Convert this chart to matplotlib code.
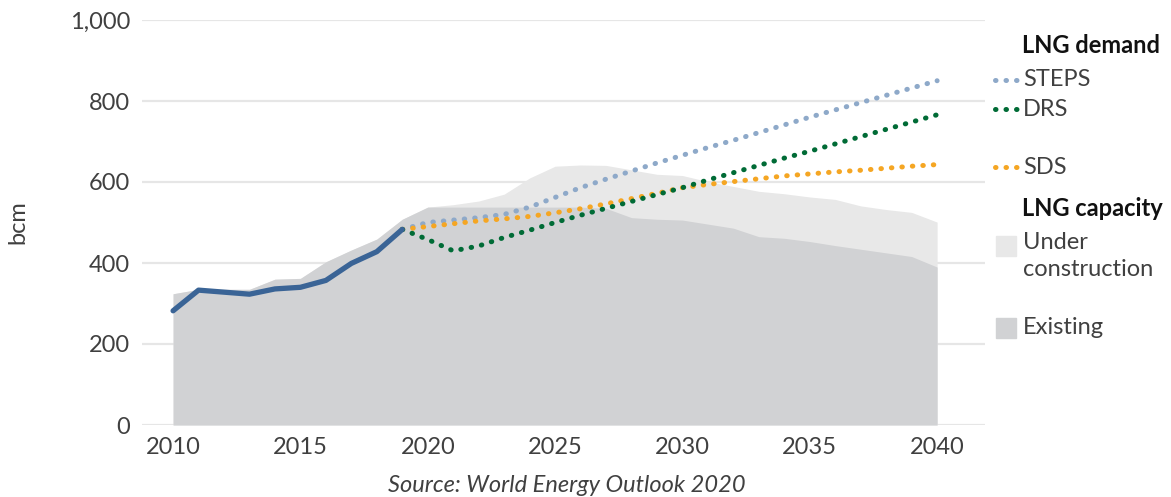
import matplotlib.pyplot as plt
from matplotlib.lines import Line2D
from matplotlib.patches import Rectangle
import numpy as np

plt.rcParams['font.family'] = ['Lato', 'DejaVu Sans']

# Historical LNG demand (bcm)
hist_years = list(range(2010, 2020))
hist_demand = [282, 333, 328, 323, 336, 340, 357, 399, 428, 483]

# Projected LNG demand by scenario (bcm)
proj_years = list(range(2019, 2041))
steps = [483, 500, 506, 512, 520, 538, 562, 586, 607, 627, 647, 666,
         685, 703, 722, 741, 760, 778, 796, 814, 832, 850]
drs = [483, 458, 430, 442, 463, 481, 500, 518, 535, 552, 569, 586,
       605, 623, 641, 659, 676, 694, 712, 730, 748, 766]
sds = [483, 490, 497, 504, 509, 515, 524, 534, 546, 559, 572, 586,
       594, 601, 608, 615, 620, 625, 629, 634, 639, 643]

# LNG liquefaction capacity (bcm)
cap_years = list(range(2010, 2041))
existing = [324, 335, 335, 335, 360, 362, 403, 432, 459, 508,
            538, 538, 538, 538, 538, 538, 538, 535, 512, 508,
            506, 496, 486, 465, 461, 453, 443, 434, 425, 416, 390]
under_construction = [0, 0, 0, 0, 0, 0, 0, 0, 0, 0,
                      0, 6, 15, 32, 72, 101, 104, 106, 118, 111,
                      110, 105, 103, 112, 110, 110, 114, 107, 107, 109, 111]

W, H = 1171, 497
fig = plt.figure(figsize=(W / 100, H / 100), dpi=100)
ax = fig.add_axes([142 / W, 1 - 425 / H, (985 - 142) / W, (425 - 20) / H])

txt = '#404040'
c_exist = '#d1d2d4'
c_under = '#e8e8e8'
c_hist = '#3a6496'
c_steps = '#8ea9c9'
c_drs = '#006b36'
c_sds = '#f5a623'

existing = np.array(existing)
total = existing + np.array(under_construction)

ax.fill_between(cap_years, 0, total, color=c_under, lw=0, zorder=2)
ax.fill_between(cap_years, 0, existing, color=c_exist, lw=0, zorder=3)

dot = (0, (0.1, 2))
for vals, col in [(steps, c_steps), (sds, c_sds), (drs, c_drs)]:
    ax.plot(proj_years, vals, color=col, lw=3.6, linestyle=dot,
            dash_capstyle='round', zorder=4)
ax.plot(hist_years, hist_demand, color=c_hist, lw=3.8,
        solid_capstyle='round', solid_joinstyle='round', zorder=5)

ax.set_xlim(2008.78, 2041.88)
ax.set_ylim(0, 1000)
ax.set_yticks(range(0, 1001, 200))
ax.set_yticklabels(['0', '200', '400', '600', '800', '1,000'])
ax.set_xticks(range(2010, 2041, 5))
ax.grid(axis='y', color='#e6e6e6', lw=1.6, zorder=1)
ax.set_axisbelow(True)
for s in ax.spines.values():
    s.set_visible(False)
ax.tick_params(length=0, pad=8.5, labelsize=17, labelcolor=txt)

fig.text(18 / W, 1 - 222 / H, 'bcm', rotation=90, ha='center', va='center',
         fontsize=17, color=txt)
fig.text(567 / W, 1 - 485 / H, 'Source: World Energy Outlook 2020',
         ha='center', va='center', fontsize=17, style='italic', color=txt)

# legend drawn by hand
def fx(px):
    return px / W

def fy(py):
    return 1 - py / H

fig.text(fx(1022), fy(46), 'LNG demand', fontsize=17, fontweight='bold',
         color='#111111', va='center')
for label, col, py in [('STEPS', c_steps, 80), ('DRS', c_drs, 109), ('SDS', c_sds, 167)]:
    fig.add_artist(Line2D([fx(995), fx(1017)], [fy(py), fy(py)], color=col,
                          lw=3.6, linestyle=dot, dash_capstyle='round'))
    fig.text(fx(1023), fy(py), label, fontsize=17, color=txt, va='center')
fig.text(fx(1022), fy(209), 'LNG capacity', fontsize=17, fontweight='bold',
         color='#111111', va='center')
fig.add_artist(Rectangle((fx(996), fy(256)), 20 / W, 20 / H, color=c_under,
                         transform=fig.transFigure))
fig.text(fx(1023), fy(242), 'Under', fontsize=17, color=txt, va='center')
fig.text(fx(1023), fy(270), 'construction', fontsize=17, color=txt, va='center')
fig.add_artist(Rectangle((fx(996), fy(338)), 20 / W, 20 / H, color=c_exist,
                         transform=fig.transFigure))
fig.text(fx(1023), fy(328), 'Existing', fontsize=17, color=txt, va='center')

fig.savefig('out.png', dpi=100)
